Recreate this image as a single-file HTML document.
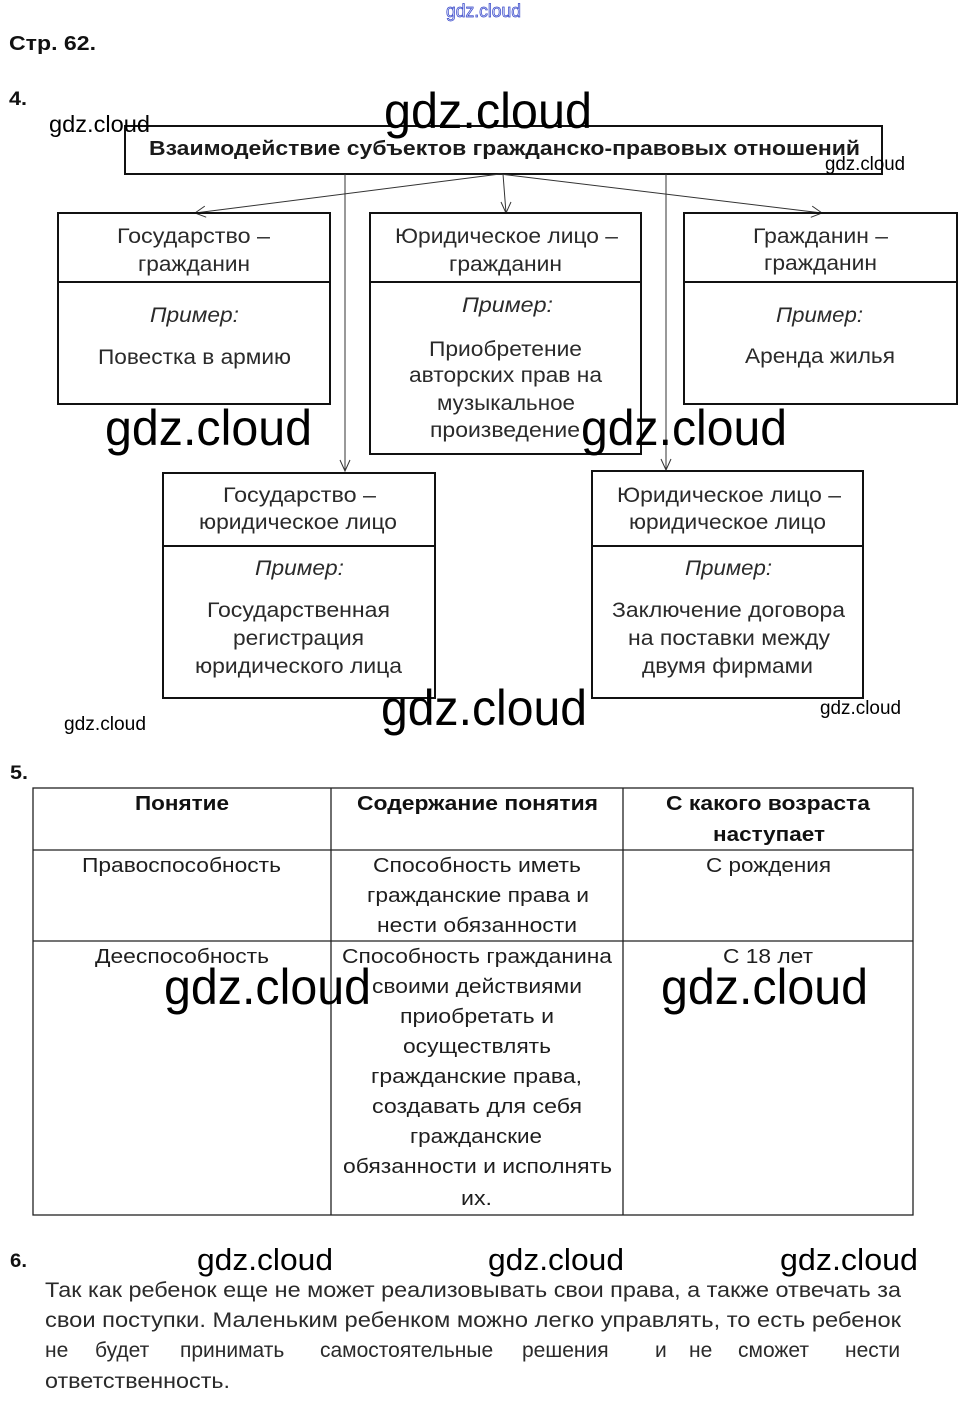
<!DOCTYPE html>
<html>
<head>
<meta charset="utf-8">
<style>
html,body{margin:0;padding:0;background:#fff;}
svg{display:block;}
text{font-family:"Liberation Sans","DejaVu Sans",sans-serif;}
.b{font-size:21px;fill:#2a2a2a;}
.i{font-size:21px;fill:#2a2a2a;font-style:italic;}
.t{font-size:20px;fill:#1e1e1e;}
.th{font-size:20px;fill:#111;font-weight:bold;}
.wm{fill:#000;}
.num{font-size:19px;font-weight:bold;fill:#111;}
</style>
</head>
<body>
<svg width="969" height="1403" viewBox="0 0 969 1403" xmlns="http://www.w3.org/2000/svg">
<rect x="0" y="0" width="969" height="1403" fill="#fff"/>

<!-- top small blue watermark -->
<text x="446" y="17" font-size="18" fill="#d6daf7" stroke="#3546c8" stroke-width="0.7" textLength="75" lengthAdjust="spacingAndGlyphs">gdz.cloud</text>

<text x="9" y="50" font-size="20" font-weight="bold" fill="#111" textLength="87" lengthAdjust="spacingAndGlyphs">Стр. 62.</text>
<text x="9" y="105" class="num" textLength="18" lengthAdjust="spacingAndGlyphs">4.</text>

<!-- title box -->
<rect x="125" y="126" width="757" height="48" fill="none" stroke="#111" stroke-width="2"/>
<text x="149" y="155" font-size="20" font-weight="bold" fill="#1a1a1a" textLength="711" lengthAdjust="spacingAndGlyphs">Взаимодействие субъектов гражданско-правовых отношений</text>

<text x="384" y="128" font-size="50" class="wm" textLength="208" lengthAdjust="spacingAndGlyphs">gdz.cloud</text>
<text x="49" y="132" font-size="23" class="wm" textLength="101" lengthAdjust="spacingAndGlyphs">gdz.cloud</text>
<text x="825" y="170" font-size="19" class="wm" textLength="80" lengthAdjust="spacingAndGlyphs">gdz.cloud</text>

<!-- connectors -->
<g stroke="#333" stroke-width="1" fill="none">
  <line x1="500" y1="174" x2="195" y2="213"/>
  <polyline points="204.8,206.1 195,213 206.2,217.2"/>
  <line x1="503" y1="174" x2="506" y2="213"/>
  <polyline points="501,202 506,213 511,202"/>
  <line x1="500" y1="174" x2="822" y2="213"/>
  <polyline points="812.2,206.1 822,213 810.8,217.3"/>
  <line x1="345" y1="174" x2="345" y2="471"/>
  <polyline points="340,460 345,471 350,460"/>
  <line x1="666" y1="174" x2="666" y2="470"/>
  <polyline points="661,459 666,470 671,459"/>
</g>

<!-- boxes -->
<g fill="none" stroke="#111" stroke-width="2">
  <rect x="58" y="213" width="272" height="191"/>
  <line x1="58" y1="282" x2="330" y2="282"/>
  <rect x="370" y="213" width="271" height="241"/>
  <line x1="370" y1="282" x2="641" y2="282"/>
  <rect x="684" y="213" width="273" height="191"/>
  <line x1="684" y1="282" x2="957" y2="282"/>
  <rect x="163" y="473" width="272" height="225"/>
  <line x1="163" y1="546" x2="435" y2="546"/>
  <rect x="592" y="471" width="271" height="227"/>
  <line x1="592" y1="546" x2="863" y2="546"/>
</g>

<!-- box1 -->
<text class="b" x="117" y="243" textLength="153" lengthAdjust="spacingAndGlyphs">Государство –</text>
<text class="b" x="138" y="271" textLength="112" lengthAdjust="spacingAndGlyphs">гражданин</text>
<text class="i" x="150" y="322" textLength="89" lengthAdjust="spacingAndGlyphs">Пример:</text>
<text class="b" x="98" y="364" textLength="193" lengthAdjust="spacingAndGlyphs">Повестка в армию</text>

<!-- box2 -->
<text class="b" x="395" y="243" textLength="223" lengthAdjust="spacingAndGlyphs">Юридическое лицо –</text>
<text class="b" x="449" y="271" textLength="113" lengthAdjust="spacingAndGlyphs">гражданин</text>
<text class="i" x="462" y="312" textLength="91" lengthAdjust="spacingAndGlyphs">Пример:</text>
<text class="b" x="429" y="356" textLength="153" lengthAdjust="spacingAndGlyphs">Приобретение</text>
<text class="b" x="409" y="382" textLength="193" lengthAdjust="spacingAndGlyphs">авторских прав на</text>
<text class="b" x="437" y="410" textLength="138" lengthAdjust="spacingAndGlyphs">музыкальное</text>
<text class="b" x="430" y="437" textLength="150" lengthAdjust="spacingAndGlyphs">произведение</text>

<!-- box3 -->
<text class="b" x="753" y="243" textLength="135" lengthAdjust="spacingAndGlyphs">Гражданин –</text>
<text class="b" x="764" y="270" textLength="113" lengthAdjust="spacingAndGlyphs">гражданин</text>
<text class="i" x="776" y="322" textLength="87" lengthAdjust="spacingAndGlyphs">Пример:</text>
<text class="b" x="745" y="363" textLength="150" lengthAdjust="spacingAndGlyphs">Аренда жилья</text>

<!-- box4 -->
<text class="b" x="223" y="502" textLength="153" lengthAdjust="spacingAndGlyphs">Государство –</text>
<text class="b" x="199" y="529" textLength="198" lengthAdjust="spacingAndGlyphs">юридическое лицо</text>
<text class="i" x="255" y="575" textLength="89" lengthAdjust="spacingAndGlyphs">Пример:</text>
<text class="b" x="207" y="617" textLength="183" lengthAdjust="spacingAndGlyphs">Государственная</text>
<text class="b" x="233" y="645" textLength="131" lengthAdjust="spacingAndGlyphs">регистрация</text>
<text class="b" x="195" y="673" textLength="207" lengthAdjust="spacingAndGlyphs">юридического лица</text>

<!-- box5 -->
<text class="b" x="617" y="502" textLength="224" lengthAdjust="spacingAndGlyphs">Юридическое лицо –</text>
<text class="b" x="629" y="529" textLength="197" lengthAdjust="spacingAndGlyphs">юридическое лицо</text>
<text class="i" x="685" y="575" textLength="87" lengthAdjust="spacingAndGlyphs">Пример:</text>
<text class="b" x="612" y="617" textLength="233" lengthAdjust="spacingAndGlyphs">Заключение договора</text>
<text class="b" x="628" y="645" textLength="202" lengthAdjust="spacingAndGlyphs">на поставки между</text>
<text class="b" x="642" y="673" textLength="171" lengthAdjust="spacingAndGlyphs">двумя фирмами</text>

<!-- watermarks section 4 -->
<text x="105" y="445" font-size="50" class="wm" textLength="207" lengthAdjust="spacingAndGlyphs">gdz.cloud</text>
<text x="581" y="445" font-size="50" class="wm" textLength="206" lengthAdjust="spacingAndGlyphs">gdz.cloud</text>
<text x="381" y="725" font-size="50" class="wm" textLength="206" lengthAdjust="spacingAndGlyphs">gdz.cloud</text>
<text x="64" y="730" font-size="19" class="wm" textLength="82" lengthAdjust="spacingAndGlyphs">gdz.cloud</text>
<text x="820" y="714" font-size="19" class="wm" textLength="81" lengthAdjust="spacingAndGlyphs">gdz.cloud</text>

<!-- section 5 -->
<text x="10" y="779" class="num" textLength="18" lengthAdjust="spacingAndGlyphs">5.</text>
<g fill="none" stroke="#222" stroke-width="1.3">
  <rect x="33" y="788" width="880" height="427"/>
  <line x1="331" y1="788" x2="331" y2="1215"/>
  <line x1="623" y1="788" x2="623" y2="1215"/>
  <line x1="33" y1="850" x2="913" y2="850"/>
  <line x1="33" y1="941" x2="913" y2="941"/>
</g>
<text class="th" x="135" y="810" textLength="94" lengthAdjust="spacingAndGlyphs">Понятие</text>
<text class="th" x="357" y="810" textLength="241" lengthAdjust="spacingAndGlyphs">Содержание понятия</text>
<text class="th" x="666" y="810" textLength="204" lengthAdjust="spacingAndGlyphs">С какого возраста</text>
<text class="th" x="713" y="841" textLength="112" lengthAdjust="spacingAndGlyphs">наступает</text>

<text class="t" x="82" y="872" textLength="199" lengthAdjust="spacingAndGlyphs">Правоспособность</text>
<text class="t" x="373" y="872" textLength="208" lengthAdjust="spacingAndGlyphs">Способность иметь</text>
<text class="t" x="367" y="902" textLength="222" lengthAdjust="spacingAndGlyphs">гражданские права и</text>
<text class="t" x="377" y="932" textLength="200" lengthAdjust="spacingAndGlyphs">нести обязанности</text>
<text class="t" x="706" y="872" textLength="125" lengthAdjust="spacingAndGlyphs">С рождения</text>

<text class="t" x="95" y="963" textLength="174" lengthAdjust="spacingAndGlyphs">Дееспособность</text>
<text class="t" x="342" y="963" textLength="270" lengthAdjust="spacingAndGlyphs">Способность гражданина</text>
<text class="t" x="372" y="993" textLength="210" lengthAdjust="spacingAndGlyphs">своими действиями</text>
<text class="t" x="400" y="1023" textLength="154" lengthAdjust="spacingAndGlyphs">приобретать и</text>
<text class="t" x="403" y="1053" textLength="148" lengthAdjust="spacingAndGlyphs">осуществлять</text>
<text class="t" x="371" y="1083" textLength="211" lengthAdjust="spacingAndGlyphs">гражданские права,</text>
<text class="t" x="372" y="1113" textLength="210" lengthAdjust="spacingAndGlyphs">создавать для себя</text>
<text class="t" x="410" y="1143" textLength="132" lengthAdjust="spacingAndGlyphs">гражданские</text>
<text class="t" x="343" y="1173" textLength="269" lengthAdjust="spacingAndGlyphs">обязанности и исполнять</text>
<text class="t" x="461" y="1205" textLength="31" lengthAdjust="spacingAndGlyphs">их.</text>
<text class="t" x="723" y="963" textLength="90" lengthAdjust="spacingAndGlyphs">С 18 лет</text>

<text x="164" y="1004" font-size="50" class="wm" textLength="207" lengthAdjust="spacingAndGlyphs">gdz.cloud</text>
<text x="661" y="1004" font-size="50" class="wm" textLength="207" lengthAdjust="spacingAndGlyphs">gdz.cloud</text>

<!-- section 6 -->
<text x="10" y="1267" class="num" textLength="17" lengthAdjust="spacingAndGlyphs">6.</text>
<text x="197" y="1270" font-size="31" class="wm" textLength="136" lengthAdjust="spacingAndGlyphs">gdz.cloud</text>
<text x="488" y="1270" font-size="31" class="wm" textLength="136" lengthAdjust="spacingAndGlyphs">gdz.cloud</text>
<text x="780" y="1270" font-size="31" class="wm" textLength="138" lengthAdjust="spacingAndGlyphs">gdz.cloud</text>

<text class="b" x="45" y="1297" textLength="856" lengthAdjust="spacingAndGlyphs">Так как ребенок еще не может реализовывать свои права, а также отвечать за</text>
<text class="b" x="45" y="1327" textLength="856" lengthAdjust="spacingAndGlyphs">свои поступки. Маленьким ребенком можно легко управлять, то есть ребенок</text>
<text class="b" y="1357"><tspan x="45">не</tspan><tspan x="95">будет</tspan><tspan x="180">принимать</tspan><tspan x="320">самостоятельные</tspan><tspan x="522">решения</tspan><tspan x="655">и</tspan><tspan x="689">не</tspan><tspan x="738">сможет</tspan><tspan x="845">нести</tspan></text>
<text class="b" x="45" y="1388" textLength="185" lengthAdjust="spacingAndGlyphs">ответственность.</text>
</svg>
</body>
</html>
